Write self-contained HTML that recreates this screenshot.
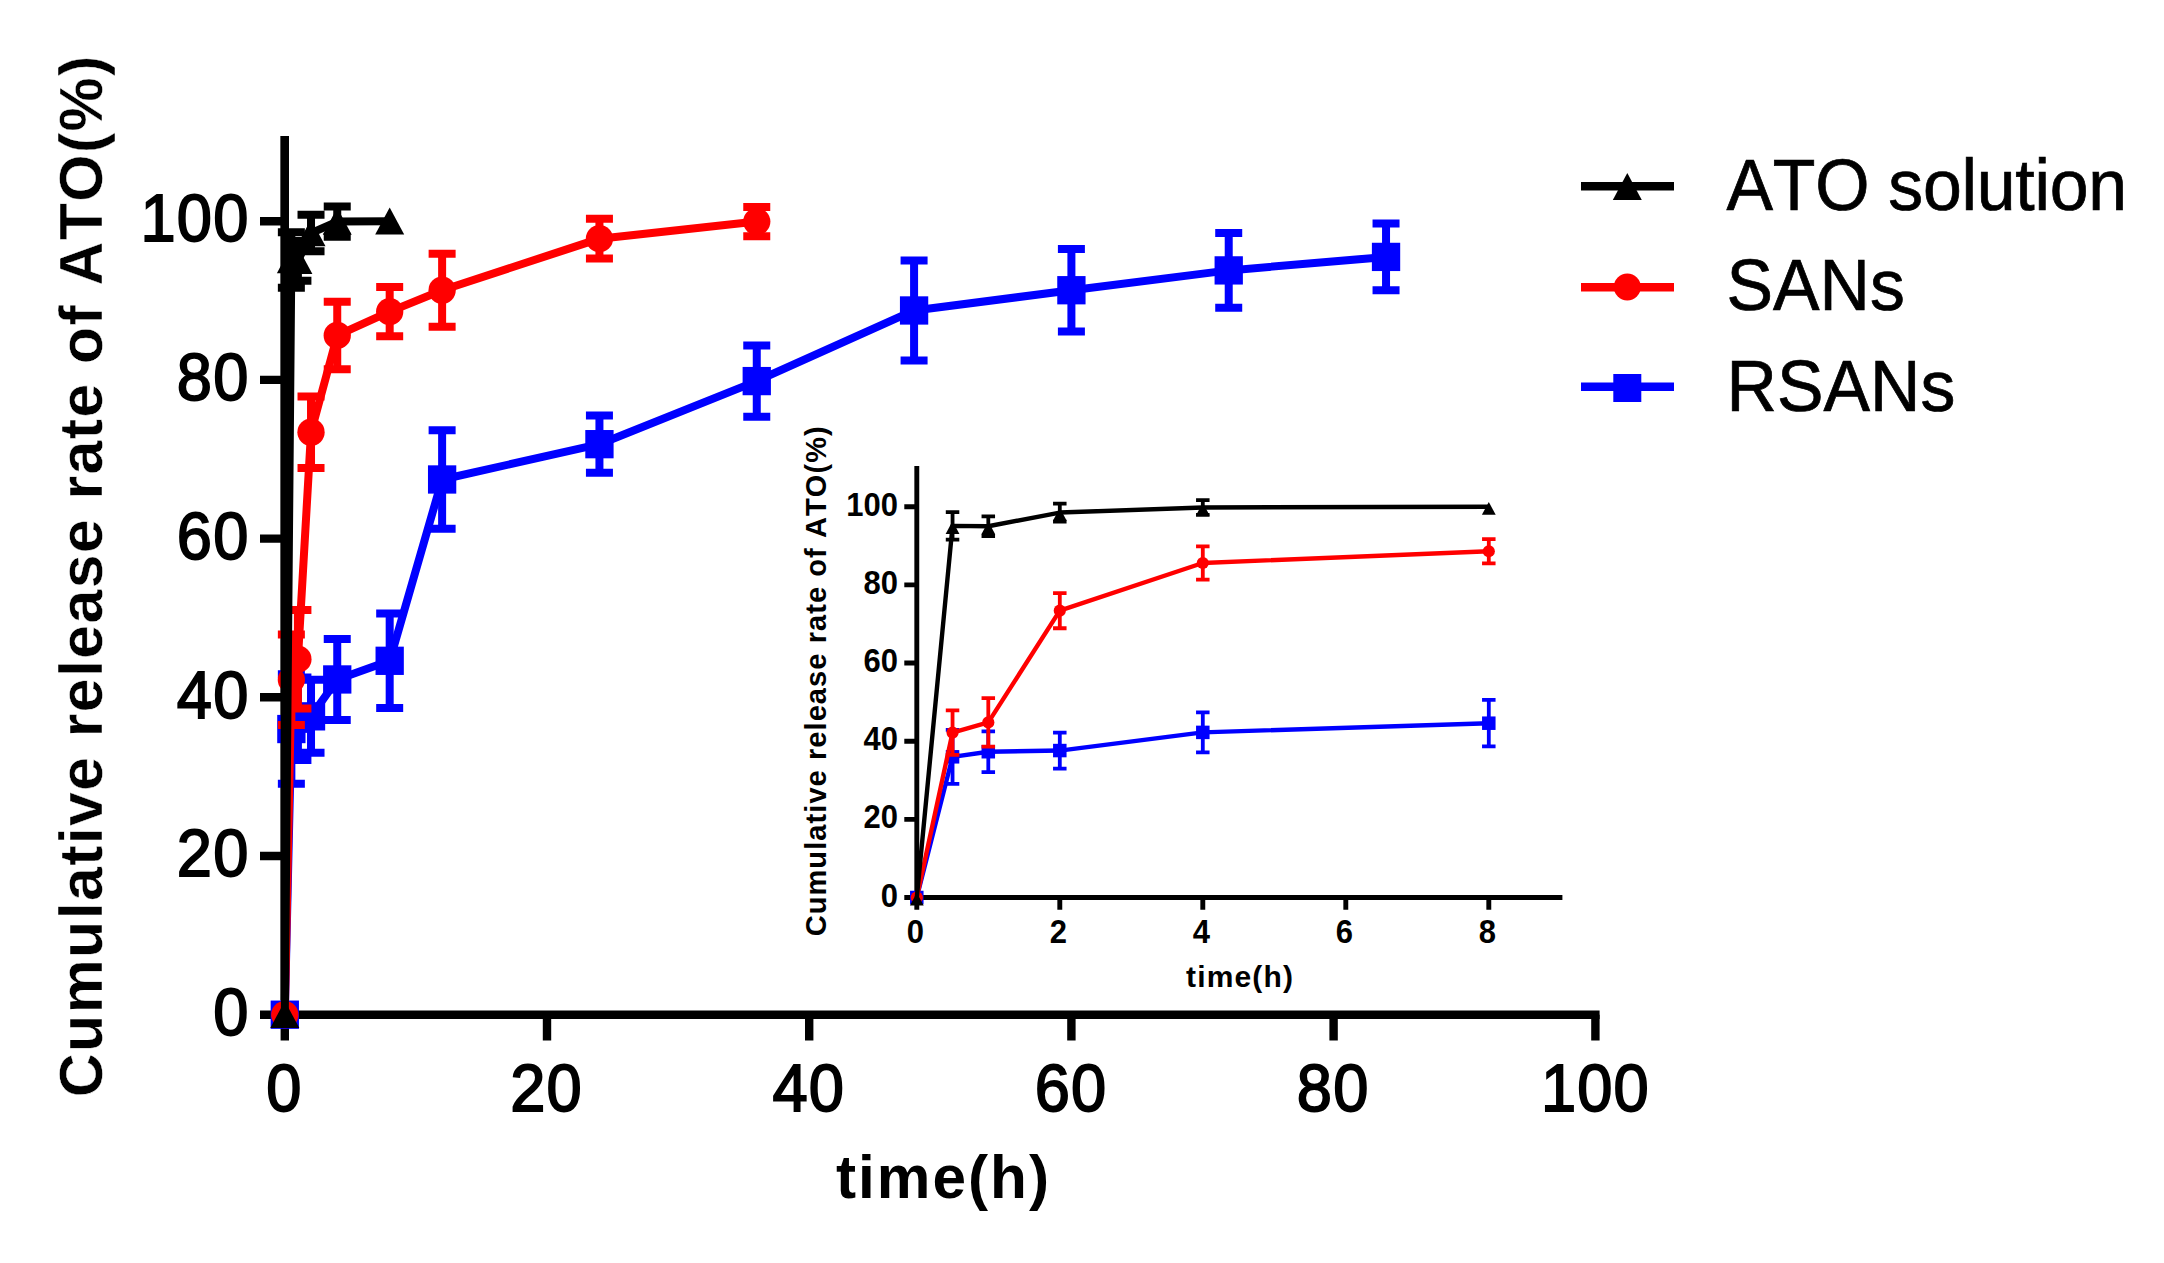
<!DOCTYPE html>
<html lang="en">
<head>
<meta charset="utf-8">
<title>Cumulative release rate of ATO</title>
<style>
html,body{margin:0;padding:0;background:#fff;}
body{width:2164px;height:1263px;overflow:hidden;}
svg{display:block;}
text{font-kerning:none;}
</style>
</head>
<body>
<svg width="2164" height="1263" viewBox="0 0 2164 1263">
<rect width="2164" height="1263" fill="#fff"/>
<g id="main-axes" stroke="#000" stroke-width="8.4" fill="none">
<path d="M284.8 136V1040.4"/>
<path d="M260 1014.7H1599.6"/>
<path d="M260 856H284.8M260 697.3H284.8M260 538.6H284.8M260 379.9H284.8M260 221.2H284.8M547 1014.7V1040.4M809.2 1014.7V1040.4M1071.4 1014.7V1040.4M1333.6 1014.7V1040.4M1595.4 1014.7V1040.4"/>
</g>
<g id="main-data">
<polyline fill="none" stroke="#0000ff" stroke-width="8" stroke-linejoin="round" points="284.8,1014.7 291.36,729.04 297.91,718.72 311.02,716.34 337.24,679.45 389.68,660.8 442.12,479.48 599.44,444.17 756.76,381.09 914.08,310.47 1071.4,290.23 1228.72,270.4 1386.04,256.91"/>
<path fill="none" stroke="#0000ff" stroke-width="8" d="M291.36 674.29V783.79M277.86 674.29H304.86M277.86 783.79H304.86M297.91 677.46V759.99M284.41 677.46H311.41M284.41 759.99H311.41M311.02 679.84V752.85M297.52 679.84H324.52M297.52 752.85H324.52M337.24 638.98V719.91M323.74 638.98H350.74M323.74 719.91H350.74M389.68 613.59V708.01M376.18 613.59H403.18M376.18 708.01H403.18M442.12 430.29V528.68M428.62 430.29H455.62M428.62 528.68H455.62M599.44 415.61V472.74M585.94 415.61H612.94M585.94 472.74H612.94M756.76 345.38V416.8M743.26 345.38H770.26M743.26 416.8H770.26M914.08 260.48V360.46M900.58 260.48H927.58M900.58 360.46H927.58M1071.4 248.97V331.5M1057.9 248.97H1084.9M1057.9 331.5H1084.9M1228.72 233.1V307.69M1215.22 233.1H1242.22M1215.22 307.69H1242.22M1386.04 223.58V290.23M1372.54 223.58H1399.54M1372.54 290.23H1399.54"/>
<rect x="270.65" y="1000.55" width="28.3" height="28.3" fill="#0000ff"/>
<rect x="277.21" y="714.89" width="28.3" height="28.3" fill="#0000ff"/>
<rect x="283.76" y="704.57" width="28.3" height="28.3" fill="#0000ff"/>
<rect x="296.87" y="702.19" width="28.3" height="28.3" fill="#0000ff"/>
<rect x="323.09" y="665.3" width="28.3" height="28.3" fill="#0000ff"/>
<rect x="375.53" y="646.65" width="28.3" height="28.3" fill="#0000ff"/>
<rect x="427.97" y="465.33" width="28.3" height="28.3" fill="#0000ff"/>
<rect x="585.29" y="430.02" width="28.3" height="28.3" fill="#0000ff"/>
<rect x="742.61" y="366.94" width="28.3" height="28.3" fill="#0000ff"/>
<rect x="899.93" y="296.32" width="28.3" height="28.3" fill="#0000ff"/>
<rect x="1057.25" y="276.08" width="28.3" height="28.3" fill="#0000ff"/>
<rect x="1214.57" y="256.25" width="28.3" height="28.3" fill="#0000ff"/>
<rect x="1371.89" y="242.76" width="28.3" height="28.3" fill="#0000ff"/>
<polyline fill="none" stroke="#ff0000" stroke-width="8" stroke-linejoin="round" points="284.8,1014.7 291.36,679.84 297.91,659.21 311.02,432.27 337.24,335.46 389.68,311.66 442.12,290.23 599.44,238.66 756.76,221.6"/>
<path fill="none" stroke="#ff0000" stroke-width="8" d="M291.36 634.61V725.07M277.86 634.61H304.86M277.86 725.07H304.86M297.91 610.02V708.41M284.41 610.02H311.41M284.41 708.41H311.41M311.02 396.56V467.98M297.52 396.56H324.52M297.52 467.98H324.52M337.24 301.74V369.19M323.74 301.74H350.74M323.74 369.19H350.74M389.68 287.06V336.26M376.18 287.06H403.18M376.18 336.26H403.18M442.12 253.73V326.74M428.62 253.73H455.62M428.62 326.74H455.62M599.44 218.82V258.49M585.94 218.82H612.94M585.94 258.49H612.94M756.76 206.92V236.28M743.26 206.92H770.26M743.26 236.28H770.26"/>
<circle cx="284.8" cy="1014.7" r="13.65" fill="#ff0000"/>
<circle cx="291.36" cy="679.84" r="13.65" fill="#ff0000"/>
<circle cx="297.91" cy="659.21" r="13.65" fill="#ff0000"/>
<circle cx="311.02" cy="432.27" r="13.65" fill="#ff0000"/>
<circle cx="337.24" cy="335.46" r="13.65" fill="#ff0000"/>
<circle cx="389.68" cy="311.66" r="13.65" fill="#ff0000"/>
<circle cx="442.12" cy="290.23" r="13.65" fill="#ff0000"/>
<circle cx="599.44" cy="238.66" r="13.65" fill="#ff0000"/>
<circle cx="756.76" cy="221.6" r="13.65" fill="#ff0000"/>
<polyline fill="none" stroke="#000000" stroke-width="8" stroke-linejoin="round" points="284.8,1014.7 291.36,260.08 297.91,260.88 311.02,233.1 337.24,221.6 389.68,221.2"/>
<path fill="none" stroke="#000000" stroke-width="8" d="M291.36 232.31V287.85M277.86 232.31H304.86M277.86 287.85H304.86M297.91 241.04V280.71M284.41 241.04H311.41M284.41 280.71H311.41M311.02 214.85V251.35M297.52 214.85H324.52M297.52 251.35H324.52M337.24 206.52V236.67M323.74 206.52H350.74M323.74 236.67H350.74"/>
<path d="M284.8 1000.95L299.3 1027.92H270.3Z" fill="#000000"/>
<path d="M291.36 246.33L305.86 273.3H276.86Z" fill="#000000"/>
<path d="M297.91 247.12L312.41 274.09H283.41Z" fill="#000000"/>
<path d="M311.02 219.35L325.52 246.32H296.52Z" fill="#000000"/>
<path d="M337.24 207.84L351.74 234.81H322.74Z" fill="#000000"/>
<path d="M389.68 207.45L404.18 234.42H375.18Z" fill="#000000"/>
</g>
<path d="M284.8 136V1000" stroke="#000" stroke-width="8.4"/>
<g id="main-text" font-family="Liberation Sans, Arial, sans-serif" fill="#000" stroke="#000" stroke-width="1.7" font-size="63.2" letter-spacing="1.2">
<text transform="translate(249.5 1034.9) scale(1 1.06)" text-anchor="end">0</text>
<text transform="translate(249.5 876.2) scale(1 1.06)" text-anchor="end">20</text>
<text transform="translate(249.5 717.5) scale(1 1.06)" text-anchor="end">40</text>
<text transform="translate(249.5 558.8) scale(1 1.06)" text-anchor="end">60</text>
<text transform="translate(249.5 400.1) scale(1 1.06)" text-anchor="end">80</text>
<text transform="translate(249.5 241.4) scale(1 1.06)" text-anchor="end">100</text>
<text transform="translate(284.4 1111.3) scale(1 1.06)" text-anchor="middle">0</text>
<text transform="translate(546.6 1111.3) scale(1 1.06)" text-anchor="middle">20</text>
<text transform="translate(808.8 1111.3) scale(1 1.06)" text-anchor="middle">40</text>
<text transform="translate(1071 1111.3) scale(1 1.06)" text-anchor="middle">60</text>
<text transform="translate(1333.2 1111.3) scale(1 1.06)" text-anchor="middle">80</text>
<text transform="translate(1595.4 1111.3) scale(1 1.06)" text-anchor="middle">100</text>
</g>
<text id="main-ylabel" font-family="Liberation Sans, Arial, sans-serif" font-weight="bold" font-size="60.8" fill="#000" stroke="#fff" stroke-width="0.4" transform="translate(101.8 1097.2) rotate(-90)" textLength="1041.5" lengthAdjust="spacing">Cumulative release rate of ATO(%)</text>
<text id="main-xlabel" font-family="Liberation Sans, Arial, sans-serif" font-weight="bold" font-size="60.3" fill="#000" x="836" y="1197.5" textLength="213" lengthAdjust="spacing">time(h)</text>
<g id="legend">
<path d="M1581 186.2H1674" stroke="#000" stroke-width="8.4"/>
<path d="M1627.3 173.05L1641.8 200.02H1612.8Z" fill="#000"/>
<path d="M1581 287.2H1674" stroke="#f00" stroke-width="8.4"/>
<circle cx="1627.3" cy="287" r="13.5" fill="#f00"/>
<path d="M1581 386.8H1674" stroke="#00f" stroke-width="8.4"/>
<rect x="1613.3" y="374" width="28" height="28" fill="#00f"/>
<g font-family="Liberation Sans, Arial, sans-serif" font-size="69.8" fill="#000" stroke="#000" stroke-width="0.7">
<text letter-spacing="-0.25" transform="translate(1726.5 210.2) scale(1 1.035)">ATO solution</text>
<text transform="translate(1726.5 310.4) scale(1 1.035)">SANs</text>
<text transform="translate(1726.5 411.4) scale(1 1.035)">RSANs</text>
</g></g>
<g id="inset-axes" stroke="#000" stroke-width="4.9" fill="none">
<path d="M916.8 466V909.8"/>
<path d="M904.3 897.5H1562.4"/>
<path d="M904.3 819.34H916.8M904.3 741.18H916.8M904.3 663.02H916.8M904.3 584.86H916.8M904.3 506.7H916.8M1059.8 897.5V909.8M1202.8 897.5V909.8M1345.8 897.5V909.8M1488.8 897.5V909.8"/>
</g>
<g id="inset-data">
<polyline fill="none" stroke="#0000ff" stroke-width="4.4" stroke-linejoin="round" points="916.8,897.5 952.55,756.81 988.3,751.73 1059.8,750.56 1202.8,732.39 1488.8,723.2"/>
<path fill="none" stroke="#0000ff" stroke-width="3.8" d="M952.55 729.85V783.78M945.8 729.85H959.3M945.8 783.78H959.3M988.3 731.41V772.05M981.55 731.41H995.05M981.55 772.05H995.05M1059.8 732.58V768.54M1053.05 732.58H1066.55M1053.05 768.54H1066.55M1202.8 712.46V752.32M1196.05 712.46H1209.55M1196.05 752.32H1209.55M1488.8 699.95V746.46M1482.05 699.95H1495.55M1482.05 746.46H1495.55"/>
<rect x="910.05" y="890.75" width="13.5" height="13.5" fill="#0000ff"/>
<rect x="945.8" y="750.06" width="13.5" height="13.5" fill="#0000ff"/>
<rect x="981.55" y="744.98" width="13.5" height="13.5" fill="#0000ff"/>
<rect x="1053.05" y="743.81" width="13.5" height="13.5" fill="#0000ff"/>
<rect x="1196.05" y="725.64" width="13.5" height="13.5" fill="#0000ff"/>
<rect x="1482.05" y="716.45" width="13.5" height="13.5" fill="#0000ff"/>
<polyline fill="none" stroke="#ff0000" stroke-width="4.4" stroke-linejoin="round" points="916.8,897.5 952.55,732.58 988.3,722.42 1059.8,610.65 1202.8,562.98 1488.8,551.25"/>
<path fill="none" stroke="#ff0000" stroke-width="3.8" d="M952.55 710.31V754.86M945.8 710.31H959.3M945.8 754.86H959.3M988.3 698.19V746.65M981.55 698.19H995.05M981.55 746.65H995.05M1059.8 593.07V628.24M1053.05 593.07H1066.55M1053.05 628.24H1066.55M1202.8 546.37V579.58M1196.05 546.37H1209.55M1196.05 579.58H1209.55M1488.8 539.14V563.37M1482.05 539.14H1495.55M1482.05 563.37H1495.55"/>
<circle cx="916.8" cy="897.5" r="6.1" fill="#ff0000"/>
<circle cx="952.55" cy="732.58" r="6.1" fill="#ff0000"/>
<circle cx="988.3" cy="722.42" r="6.1" fill="#ff0000"/>
<circle cx="1059.8" cy="610.65" r="6.1" fill="#ff0000"/>
<circle cx="1202.8" cy="562.98" r="6.1" fill="#ff0000"/>
<circle cx="1488.8" cy="551.25" r="6.1" fill="#ff0000"/>
<polyline fill="none" stroke="#000000" stroke-width="4.4" stroke-linejoin="round" points="916.8,897.5 952.55,525.85 988.3,526.24 1059.8,512.56 1202.8,507.48 1488.8,506.7"/>
<path fill="none" stroke="#000000" stroke-width="3.8" d="M952.55 512.17V539.53M945.8 512.17H959.3M945.8 539.53H959.3M988.3 516.47V536.01M981.55 516.47H995.05M981.55 536.01H995.05M1059.8 503.57V521.55M1053.05 503.57H1066.55M1053.05 521.55H1066.55M1202.8 500.06V514.91M1196.05 500.06H1209.55M1196.05 514.91H1209.55"/>
<path d="M916.8 892.75L923.7 905.59H909.9Z" fill="#000000"/>
<path d="M952.55 521.1L959.45 533.94H945.65Z" fill="#000000"/>
<path d="M988.3 521.49L995.2 534.33H981.4Z" fill="#000000"/>
<path d="M1059.8 507.82L1066.7 520.65H1052.9Z" fill="#000000"/>
<path d="M1202.8 502.74L1209.7 515.57H1195.9Z" fill="#000000"/>
<path d="M1488.8 501.95L1495.7 514.79H1481.9Z" fill="#000000"/>
</g>
<g id="inset-text" font-family="Liberation Sans, Arial, sans-serif" font-weight="bold" fill="#000" font-size="31">
<text transform="translate(898 906.5) scale(1 1.05)" text-anchor="end">0</text>
<text transform="translate(898 828.34) scale(1 1.05)" text-anchor="end">20</text>
<text transform="translate(898 750.18) scale(1 1.05)" text-anchor="end">40</text>
<text transform="translate(898 672.02) scale(1 1.05)" text-anchor="end">60</text>
<text transform="translate(898 593.86) scale(1 1.05)" text-anchor="end">80</text>
<text transform="translate(898 515.7) scale(1 1.05)" text-anchor="end">100</text>
<text transform="translate(915.4 943.2) scale(1 1.05)" text-anchor="middle">0</text>
<text transform="translate(1058.4 943.2) scale(1 1.05)" text-anchor="middle">2</text>
<text transform="translate(1201.4 943.2) scale(1 1.05)" text-anchor="middle">4</text>
<text transform="translate(1344.4 943.2) scale(1 1.05)" text-anchor="middle">6</text>
<text transform="translate(1487.4 943.2) scale(1 1.05)" text-anchor="middle">8</text>
<text x="1186" y="986.6" font-size="30" textLength="107" lengthAdjust="spacing">time(h)</text>
<text font-size="29" transform="translate(825.8 936.3) rotate(-90)" textLength="510" lengthAdjust="spacing">Cumulative release rate of ATO(%)</text>
</g>
</svg>
</body>
</html>
